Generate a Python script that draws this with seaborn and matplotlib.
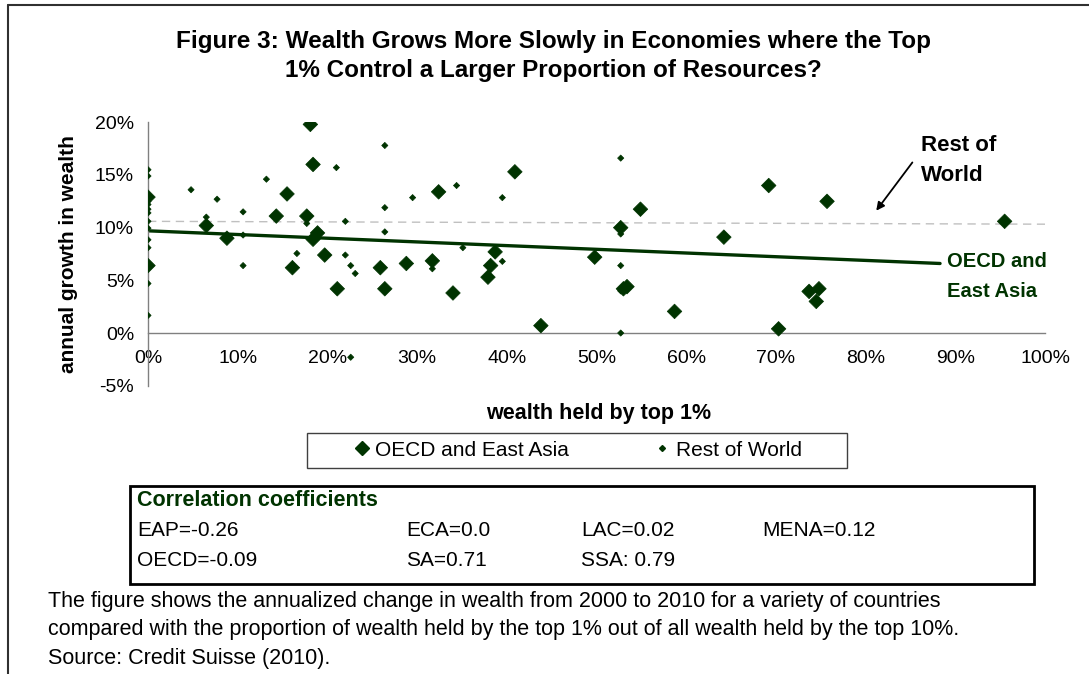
import numpy as np
import pandas as pd
import seaborn as sns
import matplotlib.pyplot as plt
from matplotlib.lines import Line2D
from matplotlib.patches import Rectangle

# wealth held by top 1% (x, %) and annual growth in wealth (y, %)
oecd_x = [0, 0, 6.5, 8.8, 14.3, 15.5, 16.1, 17.7, 18.1, 18.4, 18.4, 18.9, 19.7,
          21.1, 25.9, 26.4, 28.8, 31.7, 32.4, 34.0, 37.9, 38.2, 38.7, 40.9, 43.8,
          49.8, 52.7, 53.0, 53.4, 54.9, 58.7, 64.2, 69.2, 70.3, 73.7, 74.5, 74.8,
          75.7, 95.5]
oecd_y = [12.9, 6.4, 10.2, 9.0, 11.1, 13.2, 6.2, 11.1, 19.8, 16.0, 8.9, 9.5, 7.4,
          4.2, 6.2, 4.2, 6.6, 6.85, 13.4, 3.8, 5.3, 6.4, 7.7, 15.3, 0.7,
          7.2, 10.0, 4.2, 4.4, 11.75, 2.05, 9.1, 14.0, 0.4, 3.95, 3.0, 4.2,
          12.5, 10.6]

row_x = [0, 0, 0, 0, 0, 0, 0, 0, 0, 0, 0, 0,
         4.8, 6.5, 7.7, 10.6, 10.6, 10.6, 13.2, 16.6, 17.7, 21.0, 22.0, 22.0,
         22.6, 23.1, 22.6, 26.4, 26.4, 26.4, 29.5, 31.7, 34.4, 35.1, 39.5, 39.5,
         52.7, 52.7, 52.7, 52.7, 52.7]
row_y = [15.5, 14.9, 12.5, 12.2, 11.75, 11.4, 10.6, 9.95, 8.85, 8.1, 4.7, 1.67,
         13.6, 11.0, 12.7, 11.5, 9.3, 6.4, 14.6, 7.55, 10.4, 15.7, 10.6, 7.4,
         6.4, 5.65, -2.3, 17.8, 11.9, 9.6, 12.85, 6.1, 14.0, 8.1, 12.85, 6.8,
         16.6, 9.4, 6.4, 4.0, 0.0]

# fitted trend lines
oecd_trend_x = [0, 88.3]
oecd_trend_y = [9.7, 6.6]
row_trend_x = [0, 100]
row_trend_y = [10.6, 10.33]

groups = ["OECD and East Asia", "Rest of World"]
x_ticks = list(range(0, 101, 10))
y_ticks = list(range(-5, 21, 5))

corr_labels = [["EAP=-0.26", "ECA=0.0", "LAC=0.02", "MENA=0.12"],
               ["OECD=-0.09", "SA=0.71", "SSA: 0.79"]]

title = ("Figure 3: Wealth Grows More Slowly in Economies where the Top\n"
         "1% Control a Larger Proportion of Resources?")
note = ("The figure shows the annualized change in wealth from 2000 to 2010 for a variety of countries\n"
        "compared with the proportion of wealth held by the top 1% out of all wealth held by the top 10%.\n"
        "Source: Credit Suisse (2010).")

green = "#003300"

sns.set_theme(style="white", rc={"text.color": "black", "axes.labelcolor": "black",
                                 "xtick.color": "black", "ytick.color": "black"})
plt.rcParams["font.family"] = ["Liberation Sans", "DejaVu Sans"]

df = pd.DataFrame({
    "share": oecd_x + row_x,
    "growth": oecd_y + row_y,
    "group": [groups[0]] * len(oecd_x) + [groups[1]] * len(row_x),
})

W, H = 1089, 674
fig = plt.figure(figsize=(W / 100, H / 100), dpi=100)
ax = fig.add_axes([148 / W, 1 - 385.7 / H, 897 / W, 263.4 / H])

sns.lineplot(x=row_trend_x, y=row_trend_y, ax=ax, color="#c0c0c0",
             linestyle=(0, (6, 4)), linewidth=1.0)
sns.lineplot(x=oecd_trend_x, y=oecd_trend_y, ax=ax, color=green, linewidth=2.4)
sns.scatterplot(data=df, x="share", y="growth", hue="group", size="group",
                style="group", markers={groups[0]: "D", groups[1]: "D"},
                sizes={groups[0]: 55, groups[1]: 10},
                palette={groups[0]: green, groups[1]: green},
                edgecolor=green, linewidth=0.5, legend=False, ax=ax, zorder=3)

ax.set_xlim(0, 100)
ax.set_ylim(-5, 20)
ax.set_xticks(x_ticks)
ax.set_xticklabels([f"{t}%" for t in x_ticks])
ax.set_yticks(y_ticks)
ax.set_yticklabels([f"{t}%" for t in y_ticks])
ax.spines["top"].set_visible(False)
ax.spines["right"].set_visible(False)
ax.spines["bottom"].set_position(("data", 0))
for s in ["left", "bottom"]:
    ax.spines[s].set_color("#808080")
    ax.spines[s].set_linewidth(1.0)
ax.tick_params(axis="both", direction="out", length=4, width=1, color="#808080",
               labelsize=14, labelcolor="black", pad=6)
ax.tick_params(axis="x", pad=8)
ax.set_xlabel("")
ax.set_ylabel("annual growth in wealth", fontsize=15, fontweight="bold", labelpad=12)

ax.annotate("", xy=(81, 11.4), xytext=(85.4, 16.4),
            arrowprops=dict(arrowstyle="-|>", color="black", lw=1.3,
                            mutation_scale=12))
ax.text(86.2, 16.4, "Rest of\nWorld", fontsize=16, fontweight="bold",
        ha="left", va="center", linespacing=1.55)
ax.text(89.1, 5.4, "OECD and\nEast Asia", fontsize=14.5, fontweight="bold",
        color=green, ha="left", va="center", linespacing=1.75)

fig.text(553 / W, 1 - 56 / H, title, fontsize=17.5, fontweight="bold",
         ha="center", va="center", linespacing=1.33)
fig.text(599 / W, 1 - 413 / H, "wealth held by top 1%", fontsize=15.5,
         fontweight="bold", ha="center", va="center")

# legend: frame drawn separately so the items sit centred inside it
handles = [Line2D([], [], marker="D", linestyle="none", color=green, markersize=7),
           Line2D([], [], marker="D", linestyle="none", color=green, markersize=3)]
fig.legend(handles, groups, loc="center", ncol=2,
           bbox_to_anchor=(577 / W, 1 - 450 / H), fontsize=15, frameon=False,
           handletextpad=0.2, handlelength=0.9, columnspacing=4.0,
           borderaxespad=0)
fig.add_artist(Rectangle((307 / W, 1 - 468 / H), 540 / W, 35 / H,
                         transform=fig.transFigure, fill=False,
                         edgecolor="#404040", linewidth=1.0))

# correlation box
fig.add_artist(Rectangle((130 / W, 1 - 584 / H), 904 / W, 98 / H,
                         transform=fig.transFigure, fill=False,
                         edgecolor="black", linewidth=2))
fig.text(137 / W, 1 - 500 / H, "Correlation coefficients", fontsize=15.5,
         fontweight="bold", color=green, ha="left", va="center")
col_x = [137, 406, 581, 762]
row_y_px = [530, 560]
for r, labels in enumerate(corr_labels):
    for c, lab in enumerate(labels):
        fig.text(col_x[c] / W, 1 - row_y_px[r] / H, lab, fontsize=15,
                 ha="left", va="center")

fig.text(48 / W, 1 - 630 / H, note, fontsize=15.5, ha="left", va="center",
         linespacing=1.48)

# outer frame (top and left edges visible)
fig.add_artist(Line2D([8 / W, 1], [1 - 5 / H, 1 - 5 / H], transform=fig.transFigure,
                      color="#303030", linewidth=1.5))
fig.add_artist(Line2D([8 / W, 8 / W], [0, 1 - 5 / H], transform=fig.transFigure,
                      color="#303030", linewidth=1.5))

fig.savefig("out.png", dpi=100)
